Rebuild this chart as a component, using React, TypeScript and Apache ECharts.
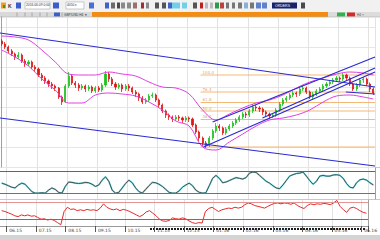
import React, { useEffect, useRef } from "react";
import * as echarts from "echarts";

// ---------- data ----------
const tickLabels = ["06.15", "07.15", "08.15", "09.15", "10.15", "11.15", "12.15", "01.16", "02.16", "03.16", "04.16", "05.16", "06.16"];

// [open, close, low, high]
const candles: number[][] = [
  [1252, 1246, 1242, 1256], [1246, 1240, 1236, 1250], [1240, 1232, 1228, 1243], [1232, 1226, 1222, 1236], [1226, 1220, 1214, 1229],
  [1220, 1224, 1216, 1230], [1224, 1212, 1208, 1227], [1212, 1206, 1200, 1216], [1206, 1210, 1202, 1214], [1210, 1200, 1196, 1213],
  [1200, 1196, 1190, 1204], [1196, 1184, 1180, 1199], [1184, 1178, 1172, 1188], [1178, 1172, 1166, 1182], [1172, 1166, 1160, 1175],
  [1166, 1162, 1156, 1170], [1162, 1158, 1152, 1165], [1158, 1140, 1136, 1160], [1140, 1130, 1124, 1143], [1130, 1162, 1128, 1166],
  [1162, 1182, 1158, 1190], [1182, 1168, 1164, 1186], [1168, 1164, 1158, 1172], [1164, 1158, 1152, 1168], [1158, 1162, 1154, 1166],
  [1162, 1156, 1150, 1165], [1156, 1160, 1152, 1164], [1160, 1152, 1148, 1163], [1152, 1158, 1148, 1162], [1158, 1154, 1150, 1162],
  [1154, 1164, 1150, 1168], [1164, 1186, 1160, 1192], [1186, 1176, 1170, 1190], [1176, 1166, 1162, 1180], [1166, 1160, 1154, 1170],
  [1160, 1164, 1156, 1168], [1164, 1156, 1150, 1167], [1156, 1162, 1152, 1166], [1162, 1158, 1152, 1166], [1158, 1150, 1146, 1161],
  [1150, 1146, 1140, 1154], [1146, 1138, 1132, 1149], [1138, 1130, 1126, 1142], [1130, 1134, 1126, 1138], [1134, 1142, 1130, 1146],
  [1142, 1144, 1138, 1149], [1144, 1134, 1130, 1147], [1134, 1124, 1120, 1137], [1124, 1112, 1108, 1127], [1112, 1104, 1098, 1115],
  [1104, 1100, 1094, 1107], [1100, 1096, 1090, 1103], [1096, 1100, 1092, 1104], [1100, 1098, 1092, 1104], [1098, 1094, 1088, 1101],
  [1094, 1098, 1090, 1102], [1098, 1096, 1090, 1101], [1096, 1084, 1080, 1099], [1084, 1070, 1066, 1087], [1070, 1058, 1052, 1073],
  [1058, 1048, 1042, 1061], [1048, 1044, 1038, 1052], [1044, 1058, 1040, 1062], [1058, 1072, 1054, 1076], [1072, 1082, 1068, 1088],
  [1082, 1078, 1072, 1086], [1078, 1068, 1064, 1081], [1068, 1076, 1064, 1080], [1076, 1082, 1072, 1086], [1082, 1088, 1078, 1092],
  [1088, 1094, 1084, 1098], [1094, 1100, 1090, 1104], [1100, 1106, 1096, 1110], [1106, 1104, 1098, 1110], [1104, 1112, 1100, 1116],
  [1112, 1120, 1108, 1126], [1120, 1118, 1112, 1124], [1118, 1116, 1110, 1122], [1116, 1110, 1104, 1119], [1110, 1106, 1100, 1113],
  [1106, 1102, 1096, 1109], [1102, 1104, 1098, 1108], [1104, 1114, 1100, 1118], [1114, 1126, 1110, 1130], [1126, 1134, 1122, 1138],
  [1134, 1138, 1130, 1142], [1138, 1144, 1134, 1148], [1144, 1148, 1140, 1152], [1148, 1146, 1140, 1151], [1146, 1156, 1142, 1160],
  [1156, 1158, 1152, 1164], [1158, 1150, 1146, 1161], [1150, 1140, 1136, 1153], [1140, 1146, 1136, 1150], [1146, 1152, 1142, 1156],
  [1152, 1156, 1148, 1160], [1156, 1162, 1152, 1166], [1162, 1166, 1158, 1170], [1166, 1170, 1162, 1174], [1170, 1174, 1166, 1178],
  [1174, 1178, 1170, 1182], [1178, 1176, 1170, 1181], [1176, 1184, 1172, 1188], [1184, 1178, 1172, 1187], [1178, 1166, 1162, 1181],
  [1166, 1156, 1152, 1169], [1156, 1164, 1152, 1168], [1164, 1174, 1160, 1178], [1174, 1176, 1168, 1180], [1176, 1166, 1162, 1179],
  [1166, 1156, 1150, 1169], [1156, 1148, 1144, 1159],
];

// Bollinger envelope read at every 4th bar
const bandIndex = [0, 4, 8, 12, 16, 20, 24, 28, 32, 36, 40, 44, 48, 52, 56, 60, 64, 68, 72, 76, 80, 84, 88, 92, 96, 100, 104, 108, 111];
const upperBand = [1262, 1260, 1254, 1234, 1210, 1186, 1184, 1184, 1190, 1186, 1182, 1170, 1160, 1158, 1146, 1114, 1094, 1106, 1118, 1128, 1134, 1144, 1158, 1170, 1178, 1186, 1190, 1188, 1184];
const lowerBand = [1234, 1220, 1202, 1176, 1154, 1128, 1128, 1144, 1148, 1146, 1142, 1130, 1114, 1092, 1082, 1040, 1034, 1050, 1066, 1082, 1094, 1098, 1104, 1114, 1130, 1142, 1144, 1140, 1136];

const stochastic = [
  47, 44, 40, 36, 34, 42, 47, 44, 34, 24,
  20, 20, 21, 20, 28, 34, 30, 22, 20, 38,
  50, 49, 47, 46, 47, 49, 48, 44, 38, 42,
  55, 64, 52, 28, 20, 22, 34, 46, 55, 48,
  34, 24, 20, 30, 40, 49, 48, 44, 38, 30,
  22, 20, 20, 26, 36, 42, 47, 40, 28, 22,
  20, 21, 40, 60, 68, 60, 48, 50, 54, 58,
  62, 60, 58, 62, 74, 77, 76, 68, 60, 52,
  47, 40, 34, 32, 42, 54, 66, 70, 73, 74,
  77, 66, 54, 44, 52, 66, 68, 66, 66, 69,
  70, 68, 60, 46, 36, 34, 48, 56, 58, 55,
  48, 42,
];

const rsi = [
  50, 48, 45, 42, 38, 36, 40, 38, 40, 37,
  38, 34, 30, 31, 28, 30, 27, 22, 17, 48,
  58, 53, 54, 50, 52, 50, 53, 51, 52, 50,
  56, 66, 58, 54, 52, 54, 50, 53, 51, 48,
  44, 40, 36, 40, 47, 50, 44, 38, 30, 26,
  25, 27, 33, 31, 30, 33, 31, 26, 22, 20,
  22, 21, 48, 55, 58, 53, 48, 52, 54, 56,
  55, 58, 56, 58, 64, 68, 66, 62, 60, 58,
  56, 60, 64, 67, 68, 66, 68, 67, 65, 68,
  62, 58, 55, 62, 66, 64, 66, 65, 67, 66,
  64, 68, 74, 60, 52, 46, 56, 58, 55, 50,
  46, 44,
];

// trend lines: [[barIndex, price], [barIndex, price]]
const trendLines: number[][][] = [
  [[-0.5, 1268], [111.5, 1160]],
  [[-0.5, 1098], [111.5, 1002]],
  [[60.3, 1040], [111.5, 1190]],
  [[63, 1090], [111.5, 1220]],
  [[77.9, 1098], [111.5, 1198]],
  [[102.8, 1150], [111.5, 1146]],
];

const fibNames = ["0.0", "38.2", "50.0", "61.8", "76.4", "100.0"];
const fibPrices = [1040, 1095, 1112, 1129, 1150, 1184];
const fibRange = [59.4, 111.5];

const stochLevels = [80, 20];
const rsiLevels = [70, 30];

// ---------- chart ----------
const categories = candles.map((_, i) => String(i));
const tickAt = (i: number) => i >= 2 && (i - 2) % 9 === 0;

export default function App() {
  const ref = useRef<HTMLDivElement>(null);

  useEffect(() => {
    if (!ref.current) return;
    const chart = echarts.init(ref.current, undefined, { renderer: "svg", width: 380, height: 240 });

    const gridBase = { left: 0, right: 5 };
    const blue = "#2b2bd0";
    const magenta = "#e23ee2";
    const fibColor = "#f2a653";

    const catAxis = (gridIndex: number, extra: any = {}) => ({
      type: "category",
      gridIndex,
      data: categories,
      boundaryGap: true,
      axisLine: { show: false },
      axisTick: { show: false },
      axisLabel: { show: false },
      splitLine: { show: true, interval: (i: number) => tickAt(i), lineStyle: { color: "#e2e2e2", width: 1 } },
      ...extra,
    });

    const series: any[] = [
      {
        type: "candlestick",
        xAxisIndex: 0,
        yAxisIndex: 0,
        data: candles,
        barWidth: 1.6,
        itemStyle: { color: "#1fc21f", color0: "#e01818", borderColor: "#1fc21f", borderColor0: "#e01818", borderWidth: 0.8 },
      },
      {
        type: "line",
        xAxisIndex: 1,
        yAxisIndex: 0,
        data: bandIndex.map((x, k) => [x, upperBand[k]]),
        smooth: 0.35,
        showSymbol: false,
        lineStyle: { color: magenta, width: 1 },
      },
      {
        type: "line",
        xAxisIndex: 1,
        yAxisIndex: 0,
        data: bandIndex.map((x, k) => [x, lowerBand[k]]),
        smooth: 0.35,
        showSymbol: false,
        lineStyle: { color: magenta, width: 1 },
      },
    ];

    fibPrices.forEach((p) => {
      series.push({
        type: "line",
        xAxisIndex: 1,
        yAxisIndex: 0,
        data: [[fibRange[0], p], [fibRange[1], p]],
        showSymbol: false,
        lineStyle: { color: fibColor, width: 0.8 },
        z: 1,
      });
    });
    series.push({
      type: "scatter",
      xAxisIndex: 1,
      yAxisIndex: 0,
      symbolSize: 0,
      data: fibPrices.map((p, k) => ({ value: [fibRange[0] + 0.6, p], name: fibNames[k] })),
      label: {
        show: true,
        formatter: (d: any) => d.name,
        position: [0, -5],
        fontSize: 4,
        color: "#d98a2e",
        fontFamily: "DejaVu Sans",
      },
    });

    trendLines.forEach((seg) => {
      series.push({
        type: "line",
        xAxisIndex: 1,
        yAxisIndex: 0,
        data: seg,
        showSymbol: false,
        lineStyle: { color: blue, width: 1.2 },
        z: 3,
      });
    });

    series.push(
      {
        type: "line",
        xAxisIndex: 2,
        yAxisIndex: 1,
        data: stochastic,
        showSymbol: false,
        lineStyle: { color: "#5fdde6", width: 1.6 },
        markLine: {
          silent: true,
          symbol: "none",
          label: { show: false },
          data: [
            { yAxis: stochLevels[0], lineStyle: { color: "#c43c3c", width: 1, type: "solid" } },
            { yAxis: stochLevels[1], lineStyle: { color: "#2a9d4a", width: 1, type: "solid" } },
          ],
        },
      },
      {
        type: "line",
        xAxisIndex: 2,
        yAxisIndex: 1,
        data: stochastic,
        showSymbol: false,
        lineStyle: { color: "#505050", width: 1 },
      },
      {
        type: "line",
        xAxisIndex: 3,
        yAxisIndex: 2,
        data: rsi,
        showSymbol: false,
        lineStyle: { color: "#e52a2a", width: 1 },
        markLine: {
          silent: true,
          symbol: "none",
          label: { show: false },
          data: [
            { yAxis: rsiLevels[0], lineStyle: { color: "#e39494", width: 1, type: "solid" } },
            { yAxis: rsiLevels[1], lineStyle: { color: "#2a9d4a", width: 1, type: "solid" } },
          ],
        },
      }
    );

    const toolbarIcons: any[] = [];
    const icon = (x: number, w: number, fill: string, y = 2.5, h = 6) =>
      toolbarIcons.push({ type: "rect", shape: { x, y, width: w, height: h }, style: { fill } });
    icon(1, 5, "#f0a020"); icon(3, 2, "#2aa02a", 5, 3);
    icon(16, 5, "#3a5fcd"); icon(53, 6, "#3a5fcd"); icon(89, 5, "#4a6fd8");
    icon(105, 4, "#3f63c9"); icon(111, 4, "#6b6b6b"); icon(117, 3, "#4a4a4a"); icon(121, 4, "#8a8a8a");
    icon(127, 4, "#8a8a8a"); icon(133, 4, "#9a6f6f"); icon(141, 3, "#a03030"); icon(146, 3, "#8a8a8a");
    icon(155, 4, "#555"); icon(162, 4, "#555"); icon(168, 4, "#3f63c9"); icon(172, 8, "#6fd0e8"); icon(182, 5, "#6fd0e8");
    icon(193, 4, "#555"); icon(200, 3, "#c02020"); icon(205, 3, "#bbb"); icon(210, 3, "#bbb"); icon(215, 4, "#2a9d4a");
    icon(220, 4, "#c04040"); icon(226, 3, "#777"); icon(232, 3, "#777"); icon(238, 4, "#777"); icon(244, 4, "#8ab0d8");
    icon(250, 4, "#777"); icon(256, 5, "#6080d0"); icon(262, 5, "#6080d0"); icon(301, 4, "#4a4a4a");

    const option: any = {
      animation: false,
      backgroundColor: "#ffffff",
      textStyle: { fontFamily: "DejaVu Sans" },
      grid: [
        { ...gridBase, top: 17, height: 150 },
        { ...gridBase, top: 168, height: 31 },
        { ...gridBase, top: 200, height: 26 },
      ],
      xAxis: [
        catAxis(0),
        { type: "value", gridIndex: 0, min: -0.5, max: categories.length - 0.5, show: false },
        catAxis(1),
        catAxis(2, {
          axisLine: { show: true, lineStyle: { color: "#9a9a9a", width: 1 } },
          axisTick: { show: true, interval: (i: number) => tickAt(i), length: 6, lineStyle: { color: "#555" } },
          axisLabel: {
            show: true,
            interval: (i: number) => tickAt(i),
            formatter: (_v: string, i: number) => tickLabels[(i - 2) / 9] ?? "",
            fontSize: 4.5,
            color: "#444",
            align: "left",
            margin: 2,
            padding: [0, 0, 0, 1],
          },
        }),
      ],
      yAxis: [
        {
          type: "value",
          gridIndex: 0,
          position: "right",
          min: 1000,
          max: 1300,
          interval: 40,
          axisLine: { show: true, lineStyle: { color: "#a0a0a0" } },
          axisTick: { show: false },
          axisLabel: { show: false },
          splitLine: { show: true, lineStyle: { color: "#e6e6e6" } },
        },
        {
          type: "value",
          gridIndex: 1,
          position: "right",
          min: 4,
          max: 88,
          axisLine: { show: true, lineStyle: { color: "#a0a0a0" } },
          axisTick: { show: false },
          axisLabel: { show: false },
          splitLine: { show: false },
        },
        {
          type: "value",
          gridIndex: 2,
          position: "right",
          min: 14,
          max: 75,
          axisLine: { show: true, lineStyle: { color: "#a0a0a0" } },
          axisTick: { show: false },
          axisLabel: { show: false },
          splitLine: { show: false },
        },
      ],
      series,
      graphic: [
        { type: "rect", shape: { x: 0, y: 0, width: 380, height: 12 }, style: { fill: "#f1f1f1" }, z: -1 },
        { type: "rect", shape: { x: 0, y: 12, width: 92, height: 5 }, style: { fill: "#d9d9d9" } },
        { type: "rect", shape: { x: 92, y: 12, width: 236, height: 5 }, style: { fill: "#f28c12" } },
        { type: "rect", shape: { x: 328, y: 12, width: 52, height: 5 }, style: { fill: "#dcdcdc" } },
        { type: "rect", shape: { x: 337, y: 12.5, width: 8, height: 4 }, style: { fill: "#2fb44a" } },
        { type: "rect", shape: { x: 347, y: 12.5, width: 8, height: 4 }, style: { fill: "#d42a2a" } },
        { type: "rect", shape: { x: 54, y: 12.5, width: 6, height: 4 }, style: { fill: "#3a5fcd" } },
        ...[17, 25, 32, 40, 47, 62].map((x) => ({ type: "line", shape: { x1: x, y1: 12.5, x2: x, y2: 16.5 }, style: { stroke: "#888", lineWidth: 0.6 } })),
        { type: "text", x: 64, y: 13, style: { text: "GBP/USD H4 ▼", fontSize: 3.2, fill: "#333" } },
        { type: "text", x: 357, y: 13, style: { text: "H4 ×", fontSize: 3.2, fill: "#555" } },
        { type: "line", shape: { x1: 0, y1: 17, x2: 380, y2: 17 }, style: { stroke: "#b0b0b0", lineWidth: 0.6 } },
        { type: "text", x: 8, y: 3, style: { text: "K", fontSize: 5, fill: "#333", fontWeight: "bold" } },
        { type: "rect", shape: { x: 25, y: 2, width: 25, height: 7 }, style: { fill: "#fff", stroke: "#9a9a9a", lineWidth: 0.5 } },
        { type: "text", x: 26, y: 3.5, style: { text: "2016.06.09 0:00", fontSize: 3.3, fill: "#333" } },
        { type: "rect", shape: { x: 66, y: 2, width: 18, height: 7 }, style: { fill: "#fff", stroke: "#9a9a9a", lineWidth: 0.5 } },
        { type: "text", x: 67, y: 3.5, style: { text: "4050 ▾", fontSize: 3.3, fill: "#333" } },
        { type: "rect", shape: { x: 272, y: 2.5, width: 25, height: 6 }, style: { fill: "#16246b" } },
        { type: "text", x: 275, y: 3.5, style: { text: "ORDERS", fontSize: 3.5, fill: "#fff" } },
        ...toolbarIcons,
        { type: "line", shape: { x1: 0, y1: 167.5, x2: 380, y2: 167.5 }, style: { stroke: "#c8c8c8", lineWidth: 1 } },
        { type: "line", shape: { x1: 0, y1: 199.5, x2: 380, y2: 199.5 }, style: { stroke: "#c8c8c8", lineWidth: 1 } },
        { type: "line", shape: { x1: 150, y1: 229, x2: 366, y2: 229 }, style: { stroke: "#1a1a1a", lineWidth: 2, lineDash: [2, 1] } },
        { type: "rect", shape: { x: 0, y: 235, width: 380, height: 5 }, style: { fill: "#d4d4d4" } },
      ],
    };

    chart.setOption(option);
    return () => chart.dispose();
  }, []);

  return <div ref={ref} style={{ position: "absolute", left: 0, top: 0, width: 380, height: 240 }} />;
}
